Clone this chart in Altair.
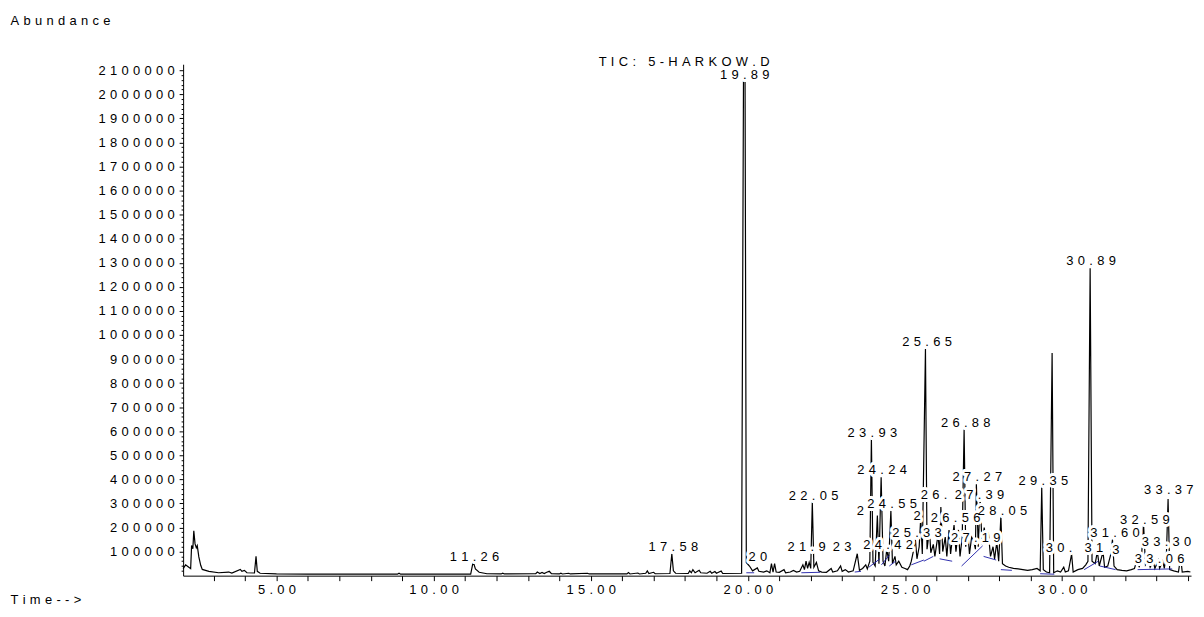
import altair as alt
import pandas as pd

FONT = "Liberation Sans"
GAP = "\u2004"  # three-per-em space used as letter spacing

# ---- chromatogram trace (retention time in min, abundance in thousands) ----
trace_time = [
    2.03, 2.11, 2.19, 2.27, 2.30, 2.34, 2.37, 2.41, 2.45, 2.48, 2.53, 2.59, 2.64, 2.85,
    3.16, 3.48, 3.58, 3.85, 3.90, 3.98, 4.06, 4.30, 4.35, 4.39, 4.48, 5.0, 6.0, 7.0, 8.0,
    8.85, 8.9, 8.95, 10.0, 11.18, 11.26, 11.33, 11.45, 11.7, 12.15, 12.2, 12.25, 13.25,
    13.3, 13.38, 13.45, 13.52, 13.6, 13.68, 13.75, 14.0, 14.05, 14.1, 14.3, 14.35, 14.9,
    14.95, 16.15, 16.2, 16.25, 16.5, 16.55, 16.75, 16.8, 16.85, 17.0, 17.05, 17.52, 17.58,
    17.63, 17.7, 18.1, 18.15, 18.2, 18.25, 18.32, 18.45, 18.5, 18.7, 18.8, 18.85, 18.95,
    19.0, 19.15, 19.2, 19.8, 19.86, 19.91, 19.95, 20.05, 20.15, 20.3, 20.35, 20.5, 20.6,
    20.7, 20.75, 20.8, 20.85, 20.9, 21.0, 21.15, 21.2, 21.35, 21.45, 21.55, 21.65, 21.75,
    21.8, 21.85, 21.9, 21.95, 22.0, 22.05, 22.1, 22.18, 22.25, 22.35, 22.5, 22.65, 22.7,
    22.85, 22.95, 23.0, 23.1, 23.2, 23.35, 23.48, 23.55, 23.65, 23.75, 23.8, 23.88, 23.93,
    23.98, 24.05, 24.12, 24.17, 24.24, 24.3, 24.36, 24.42, 24.48, 24.55, 24.6, 24.68,
    24.72, 24.8, 24.9, 25.0, 25.08, 25.15, 25.2, 25.28, 25.33, 25.38, 25.45, 25.5, 25.55,
    25.65, 25.7, 25.78, 25.82, 25.9, 25.95, 26.05, 26.1, 26.14, 26.2, 26.28, 26.33, 26.4,
    26.45, 26.52, 26.56, 26.62, 26.7, 26.75, 26.82, 26.88, 26.93, 27.0, 27.05, 27.12,
    27.19, 27.24, 27.27, 27.33, 27.39, 27.45, 27.52, 27.58, 27.65, 27.72, 27.8, 27.85,
    27.92, 27.98, 28.05, 28.1, 28.2, 28.3, 28.45, 28.6, 28.75, 28.9, 29.05, 29.2, 29.3,
    29.35, 29.4, 29.5, 29.6, 29.68, 29.73, 29.85, 29.95, 30.05, 30.1, 30.2, 30.3, 30.35,
    30.5, 30.65, 30.75, 30.82, 30.89, 30.95, 31.05, 31.12, 31.18, 31.3, 31.35, 31.45,
    31.55, 31.6, 31.65, 31.75, 31.9, 32.05, 32.2, 32.3, 32.4, 32.45, 32.52, 32.59, 32.65,
    32.75, 32.8, 32.9, 32.95, 33.06, 33.1, 33.2, 33.25, 33.32, 33.37, 33.42, 33.55, 33.7,
    33.77, 33.82, 34.0, 34.08,
]
trace_k = [
    29, 45, 37, 29, 125, 112, 186, 132, 116, 125, 78, 43, 26, 18,
    12, 15, 11, 26, 18, 22, 12, 11, 80, 18, 10, 7, 6, 6, 6,
    6, 10, 6, 6, 6, 58, 28, 14, 8, 7, 10, 7, 8,
    15, 9, 13, 9, 14, 18, 8, 7, 10, 7, 10, 7, 10,
    7, 7, 13, 7, 11, 7, 10, 20, 9, 14, 8, 9, 91,
    20, 10, 9, 20, 12, 25, 12, 22, 12, 10, 18, 10, 17,
    10, 19, 9, 10, 2060, 2060, 55, 40, 20, 32, 18, 15, 20,
    12, 50, 15, 50, 15, 14, 25, 12, 15, 22, 15, 18, 45,
    25, 60, 30, 55, 30, 306, 35, 55, 20, 15, 14, 30, 15,
    20, 40, 18, 25, 15, 20, 91, 22, 30, 45, 28, 60, 570,
    55, 40, 250, 50, 409, 60, 40, 110, 60, 270, 50, 80,
    45, 60, 35, 30, 25, 40, 60, 110, 150, 70, 120, 240, 90,
    942, 110, 190, 95, 130, 80, 170, 90, 285, 100, 160, 80, 190,
    90, 170, 210, 100, 190, 80, 160, 607, 120, 180, 90, 160,
    140, 110, 380, 120, 318, 130, 200, 140, 180, 80, 120, 70,
    140, 60, 248, 50, 40, 35, 30, 28, 25, 22, 25, 30, 20,
    368, 25, 15, 12, 925, 12, 20, 15, 35, 15, 20, 90, 15,
    25, 30, 45, 60, 1277, 60, 50, 100, 40, 99, 35, 40,
    90, 150, 40, 25, 22, 20, 25, 30, 74, 35, 70, 215, 45,
    65, 35, 60, 30, 65, 30, 60, 30, 100, 318, 25, 20, 15,
    78, 15, 18, 15,
]

# ---- integration baselines (blue) ----
base_t1 = [19.95, 21.7, 23.4, 23.85, 24.25, 24.5, 25.2, 25.6, 26.1, 26.8, 27.5, 28.05, 29.3, 30.7, 31.2, 32.4]
base_k1 = [12, 12, 15, 35, 45, 40, 45, 60, 70, 40, 80, 25, 8, 25, 40, 25]
base_t2 = [20.2, 22.3, 23.6, 24.2, 24.5, 24.7, 25.6, 25.9, 26.5, 27.47, 27.9, 28.4, 29.75, 31.15, 31.7, 33.5]
base_k2 = [12, 14, 18, 70, 85, 60, 65, 80, 60, 124, 65, 22, 6, 60, 25, 28]

# ---- peak labels (visible text, time at label centre, abundance at text baseline) ----
label_text = ["11.26", "17.58", "19.89", "20", "21.9", "23", "22.05", "23.93", "24.24",
              "2", "24.55", "24.42", "25.33", "2", "26.", "27.39", "26.56", "27.27", "26.88",
              "28.05", "27.19", "25.65", "29.35", "30.89", "30.", "31", "3", "31.60",
              "32.59", "33.37", "33.06", "33.30"]
label_time = [11.30, 17.63, 19.90, 20.32, 21.87, 23.00, 22.09, 23.96, 24.27,
              23.58, 24.59, 24.46, 25.38, 25.38, 25.92, 27.37, 26.61, 27.30, 26.93,
              28.10, 27.25, 25.70, 29.40, 30.92, 29.90, 31.01, 31.71, 31.68,
              32.63, 33.39, 33.10, 33.32]
label_k = [62, 103, 2064, 62, 103, 103, 314, 578, 421,
           252, 281, 112, 161, 231, 318, 318, 223, 393, 616,
           252, 141, 955, 376, 1290, 99, 99, 91, 161,
           215, 339, 52, 124]

chart_title = ["TIC: 5-HARKOW.D"]

trace = pd.DataFrame({"t": trace_time, "v": [k * 1000 for k in trace_k]})
base = pd.DataFrame({"t": base_t1, "v": [k * 1000 for k in base_k1],
                     "t2": base_t2, "v2": [k * 1000 for k in base_k2]})
labels = pd.DataFrame({"txt": label_text, "t": label_time, "v": [k * 1000 for k in label_k]})
title_df = pd.DataFrame({"txt": chart_title})

W, H = 1013, 514


def sp(s):
    return GAP.join(s)


SPACED = "join(split({}, ''), '" + GAP + "')"

xaxis = alt.Axis(
    values=list(range(3, 35)),
    labelExpr="datum.value % 5 === 0 ? " + SPACED.format("format(datum.value, '.2f')") + " : ''",
    labelOverlap=False, labelFlush=False,
    tickSize=5, tickColor="black", domainColor="black", labelPadding=3,
    labelFont=FONT, labelFontSize=13, labelColor="black", grid=False,
    title=sp("Time-->"), titleX=-174, titleY=24, titleAlign="left", titleBaseline="middle",
    titleFont=FONT, titleFontSize=13, titleFontWeight="normal", titleColor="black",
    titleAnchor="start",
)
yaxis = alt.Axis(
    values=list(range(20000, 2120000, 20000)),
    labelExpr="datum.value % 100000 === 0 ? " + SPACED.format("format(datum.value, 'd')") + " : ''",
    labelOverlap=False, labelFlush=False,
    tickSize={"condition": {"test": "datum.value % 100000 === 0", "value": 4}, "value": 2},
    tickColor="black", domainColor="black", labelPadding=5,
    labelFont=FONT, labelFontSize=13, labelColor="black", grid=False,
    title=sp("Abundance"), titleAngle=0, titleX=-174, titleY=-44, titleAlign="left",
    titleBaseline="middle", titleFont=FONT, titleFontSize=13, titleFontWeight="normal",
    titleColor="black", titleAnchor="start",
)

X = alt.X("t:Q", scale=alt.Scale(domain=[2.03, 34.1], nice=False, zero=False), axis=xaxis)
Y = alt.Y("v:Q", scale=alt.Scale(domain=[0, 2125000], nice=False, zero=False), axis=yaxis)

line = alt.Chart(trace).mark_line(color="black", strokeWidth=1.2, interpolate="linear").encode(
    x=X, y=Y, order="t:Q")

blue = alt.Chart(base).mark_rule(color="#1a1aa6", strokeWidth=0.9).encode(
    x=X, y=Y, x2="t2:Q", y2="v2:Q")

halo = alt.Chart(labels).transform_calculate(s=SPACED.format("datum.txt")).mark_text(
    font=FONT, fontSize=13, baseline="alphabetic", align="center",
    fill="white", stroke="white", strokeWidth=6, strokeJoin="round").encode(x=X, y=Y, text="s:N")

text = alt.Chart(labels).transform_calculate(s=SPACED.format("datum.txt")).mark_text(
    font=FONT, fontSize=13, baseline="alphabetic", align="center", color="black").encode(
    x=X, y=Y, text="s:N")

title = alt.Chart(title_df).transform_calculate(s=SPACED.format("datum.txt")).mark_text(
    font=FONT, fontSize=13, baseline="alphabetic", align="center", color="black").encode(
    x=alt.value(W / 2 - 3), y=alt.value(2), text="s:N")

chart = alt.layer(line, blue, halo, text, title).properties(
    width=W, height=H,
    padding={"left": 2, "top": 5, "right": 2, "bottom": 2},
).configure(
    background="white",
    view=alt.ViewConfig(strokeWidth=0, stroke="transparent"),
)

chart.save("out.html", embed_options={"renderer": "svg", "actions": False})
